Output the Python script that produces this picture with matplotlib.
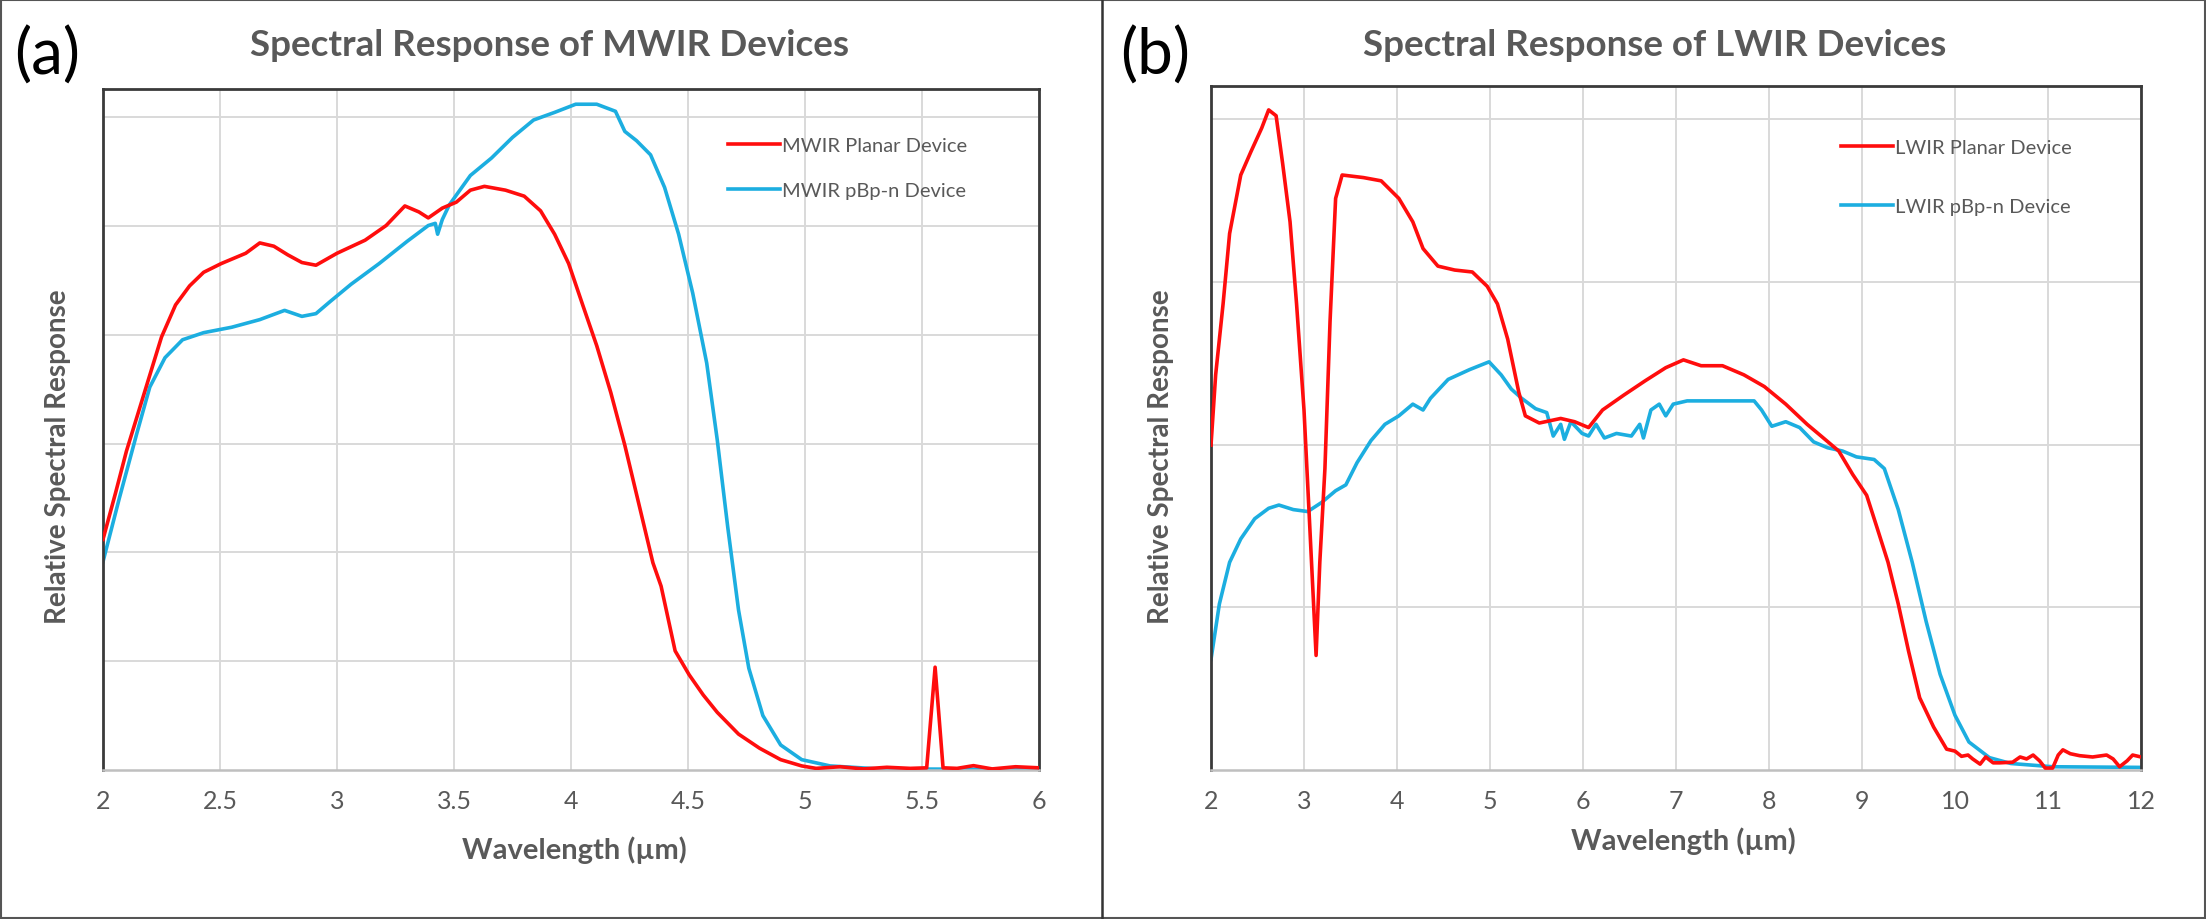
import matplotlib
matplotlib.use("Agg")
import matplotlib.pyplot as plt
from matplotlib.lines import Line2D

plt.rcParams['font.family'] = ['Lato', 'DejaVu Sans']

# ---------------- data (a) MWIR ----------------
mw_planar_x = [2.0, 2.054, 2.1, 2.2, 2.25, 2.31, 2.37, 2.43, 2.505, 2.61, 2.67, 2.73, 2.79, 2.85,
               2.91, 3.0, 3.12, 3.21, 3.29, 3.35, 3.39, 3.45, 3.51, 3.57, 3.63, 3.72, 3.80,
               3.87, 3.93, 3.99, 4.05, 4.11, 4.17, 4.23, 4.29, 4.35, 4.385, 4.445, 4.505,
               4.565, 4.625, 4.716, 4.806, 4.896, 4.986, 5.047, 5.15, 5.25, 5.35, 5.45, 5.52,
               5.556, 5.59, 5.65, 5.72, 5.8, 5.9, 6.0]
mw_planar_y = [0.424, 0.510, 0.586, 0.726, 0.796, 0.855, 0.890, 0.915, 0.931, 0.950, 0.969, 0.963,
               0.947, 0.933, 0.928, 0.950, 0.974, 1.001, 1.037, 1.026, 1.015, 1.033, 1.044,
               1.066, 1.073, 1.066, 1.055, 1.028, 0.985, 0.931, 0.855, 0.780, 0.694, 0.597,
               0.489, 0.381, 0.338, 0.219, 0.175, 0.138, 0.106, 0.066, 0.040, 0.019, 0.0075,
               0.003, 0.006, 0.002, 0.005, 0.003, 0.004, 0.189, 0.004, 0.003, 0.008, 0.002,
               0.006, 0.004]

mw_pbpn_x = [2.0, 2.07, 2.144, 2.2, 2.265, 2.34, 2.43, 2.55, 2.67, 2.776, 2.85, 2.91, 2.97, 3.06,
             3.18, 3.30, 3.39, 3.42, 3.43, 3.45, 3.48, 3.57, 3.66, 3.75, 3.84, 3.93, 4.02, 4.11,
             4.19, 4.23, 4.28, 4.34, 4.40, 4.46, 4.52, 4.58, 4.625, 4.67, 4.716, 4.76, 4.82,
             4.896, 4.986, 5.107, 5.317, 6.0]
mw_pbpn_y = [0.383, 0.500, 0.618, 0.704, 0.758, 0.791, 0.804, 0.814, 0.828, 0.845, 0.834, 0.839,
             0.861, 0.893, 0.931, 0.972, 1.001, 1.005, 0.985, 1.012, 1.039, 1.093, 1.125, 1.163,
             1.195, 1.209, 1.224, 1.224, 1.211, 1.174, 1.157, 1.131, 1.071, 0.985, 0.877,
             0.748, 0.607, 0.446, 0.294, 0.187, 0.100, 0.046, 0.019, 0.0075, 0.002, 0.001]

# ---------------- data (b) LWIR ----------------
lw_planar_x = [2.0, 2.05, 2.13, 2.20, 2.32, 2.43, 2.545, 2.62, 2.70, 2.77, 2.85, 2.92, 3.0, 3.05,
               3.13, 3.17, 3.225, 3.28, 3.34, 3.41, 3.64, 3.83, 4.02, 4.17, 4.28, 4.44, 4.62,
               4.81, 4.97, 5.08, 5.19, 5.31, 5.38, 5.53, 5.76, 5.91, 6.06, 6.21, 6.44, 6.67,
               6.89, 7.08, 7.27, 7.50, 7.73, 7.95, 8.18, 8.41, 8.56, 8.75, 8.90, 9.05, 9.16,
               9.28, 9.39, 9.50, 9.62, 9.77, 9.91, 10.0, 10.07, 10.14, 10.19, 10.27, 10.33,
               10.41, 10.48, 10.62, 10.70, 10.77, 10.84, 10.91, 10.97, 11.05, 11.11, 11.16,
               11.24, 11.34, 11.48, 11.63, 11.70, 11.77, 11.85, 11.91, 12.0]
lw_planar_y = [0.499, 0.607, 0.716, 0.824, 0.914, 0.950, 0.986, 1.014, 1.005, 0.932, 0.842, 0.716,
               0.553, 0.409, 0.176, 0.319, 0.463, 0.689, 0.878, 0.914, 0.910, 0.905, 0.878,
               0.842, 0.801, 0.774, 0.768, 0.765, 0.743, 0.716, 0.662, 0.580, 0.544, 0.533,
               0.540, 0.535, 0.526, 0.553, 0.576, 0.598, 0.618, 0.630, 0.621, 0.621, 0.607,
               0.589, 0.562, 0.531, 0.513, 0.490, 0.454, 0.422, 0.373, 0.319, 0.255, 0.183,
               0.111, 0.066, 0.032, 0.029, 0.021, 0.023, 0.017, 0.009, 0.020, 0.011, 0.011,
               0.012, 0.020, 0.017, 0.023, 0.014, 0.003, 0.003, 0.023, 0.031, 0.025, 0.022,
               0.020, 0.023, 0.017, 0.005, 0.014, 0.023, 0.020]

lw_pbpn_x = [2.0, 2.09, 2.20, 2.32, 2.47, 2.62, 2.73, 2.885, 3.04, 3.19, 3.34, 3.45, 3.57, 3.72,
             3.87, 4.02, 4.17, 4.28, 4.36, 4.55, 4.78, 4.99, 5.12, 5.23, 5.34, 5.49, 5.61,
             5.68, 5.76, 5.80, 5.87, 5.99, 6.06, 6.14, 6.23, 6.36, 6.52, 6.61, 6.65, 6.73,
             6.82, 6.89, 6.97, 7.12, 7.35, 7.57, 7.84, 7.92, 8.03, 8.18, 8.33, 8.48, 8.63,
             8.79, 8.94, 9.13, 9.24, 9.39, 9.54, 9.69, 9.84, 10.0, 10.15, 10.37, 10.60,
             11.05, 12.0]
lw_pbpn_y = [0.170, 0.255, 0.319, 0.355, 0.386, 0.402, 0.407, 0.400, 0.397, 0.411, 0.429, 0.438,
             0.472, 0.506, 0.531, 0.544, 0.562, 0.553, 0.571, 0.600, 0.615, 0.627, 0.607,
             0.585, 0.571, 0.555, 0.549, 0.513, 0.531, 0.508, 0.535, 0.517, 0.513, 0.531,
             0.510, 0.517, 0.513, 0.531, 0.510, 0.553, 0.562, 0.544, 0.562, 0.567, 0.567,
             0.567, 0.567, 0.553, 0.528, 0.535, 0.526, 0.504, 0.495, 0.490, 0.481, 0.477,
             0.463, 0.400, 0.319, 0.228, 0.147, 0.084, 0.043, 0.019, 0.010, 0.005, 0.004]

mw_xticks = [2, 2.5, 3, 3.5, 4, 4.5, 5, 5.5, 6]
mw_xticklabels = ['2', '2.5', '3', '3.5', '4', '4.5', '5', '5.5', '6']
lw_xticks = [2, 3, 4, 5, 6, 7, 8, 9, 10, 11, 12]
lw_xticklabels = [str(v) for v in lw_xticks]
mw_ygrid = [0.2, 0.4, 0.6, 0.8, 1.0, 1.2]
lw_ygrid = [0.25, 0.5, 0.75, 1.0]

RED = '#FF0D0D'
BLUE = '#1CAEE0'
GREY_TXT = '#595959'
GRID = '#D9D9D9'

W, H = 2206, 920
fig = plt.figure(figsize=(W / 100, H / 100), dpi=100)

def fx(px):
    return px / W

def fy(py):
    return 1 - py / H

def style_axes(ax, xticks, xticklabels, ygrid, xlim, ylim):
    ax.set_xlim(*xlim)
    ax.set_ylim(*ylim)
    ax.set_xticks(xticks)
    ax.set_xticklabels(xticklabels)
    ax.set_yticks(ygrid)
    ax.tick_params(axis='y', length=0, labelleft=False)
    ax.tick_params(axis='x', length=0, labelsize=18, colors=GREY_TXT, pad=14)
    ax.grid(True, color=GRID, linewidth=1.4, zorder=0)
    ax.set_axisbelow(True)
    for s in ('left', 'top', 'right'):
        ax.spines[s].set_color('#3A3A3A')
        ax.spines[s].set_linewidth(2.0)
    ax.spines['bottom'].set_color('#BFBFBF')
    ax.spines['bottom'].set_linewidth(1.8)

# ---- panel (a)
ax1 = fig.add_axes([fx(103), fy(771), fx(1039) - fx(103), fy(90) - fy(771)])
style_axes(ax1, mw_xticks, mw_xticklabels, mw_ygrid, (2, 6), (0, 1.252))
ax1.plot(mw_planar_x, mw_planar_y, color=RED, lw=2.6, label='MWIR Planar Device', zorder=3)
ax1.plot(mw_pbpn_x, mw_pbpn_y, color=BLUE, lw=2.6, label='MWIR pBp-n Device', zorder=2)
ax1.legend(loc='upper left', bbox_to_anchor=(0.648, 0.956), frameon=False, fontsize=14.5,
           handlelength=2.6, handletextpad=0.1, labelspacing=1.4, labelcolor=GREY_TXT)

# ---- panel (b)
ax2 = fig.add_axes([fx(1211), fy(771), fx(2141) - fx(1211), fy(87) - fy(771)])
style_axes(ax2, lw_xticks, lw_xticklabels, lw_ygrid, (2, 12), (0, 1.0507))
ax2.plot(lw_planar_x, lw_planar_y, color=RED, lw=2.6, label='LWIR Planar Device', zorder=3)
ax2.plot(lw_pbpn_x, lw_pbpn_y, color=BLUE, lw=2.6, label='LWIR pBp-n Device', zorder=2)
ax2.legend(loc='upper left', bbox_to_anchor=(0.658, 0.949), frameon=False, fontsize=14.5,
           handlelength=2.6, handletextpad=0.1, labelspacing=2.1, labelcolor=GREY_TXT)

# ---- texts
fig.text(fx(550), fy(46), 'Spectral Response of MWIR Devices', ha='center', va='center',
         fontsize=26.5, fontweight='bold', color=GREY_TXT)
fig.text(fx(1655), fy(46), 'Spectral Response of LWIR Devices', ha='center', va='center',
         fontsize=26.5, fontweight='bold', color=GREY_TXT)
fig.text(fx(47), fy(56), '(a)', ha='center', va='center', fontsize=46, color='black')
fig.text(fx(1155), fy(56), '(b)', ha='center', va='center', fontsize=46, color='black')
fig.text(fx(58), fy(457), 'Relative Spectral Response', rotation=90, ha='center', va='center',
         fontsize=20, fontweight='bold', color=GREY_TXT)
fig.text(fx(1161), fy(457), 'Relative Spectral Response', rotation=90, ha='center', va='center',
         fontsize=20, fontweight='bold', color=GREY_TXT)
fig.text(fx(574), fy(850), 'Wavelength (µm)', ha='center', va='center',
         fontsize=21, fontweight='bold', color=GREY_TXT)
fig.text(fx(1683), fy(841), 'Wavelength (µm)', ha='center', va='center',
         fontsize=21, fontweight='bold', color=GREY_TXT)

# ---- frame and divider
frame = plt.Rectangle((0.0005, 0.001), 0.999, 0.998, transform=fig.transFigure,
                      fill=False, edgecolor='#555555', linewidth=1.5)
fig.add_artist(frame)
fig.add_artist(Line2D([fx(1102), fx(1102)], [0, 1], transform=fig.transFigure,
                      color='#333333', linewidth=1.8))

fig.savefig('out.png', dpi=100, facecolor='white')
